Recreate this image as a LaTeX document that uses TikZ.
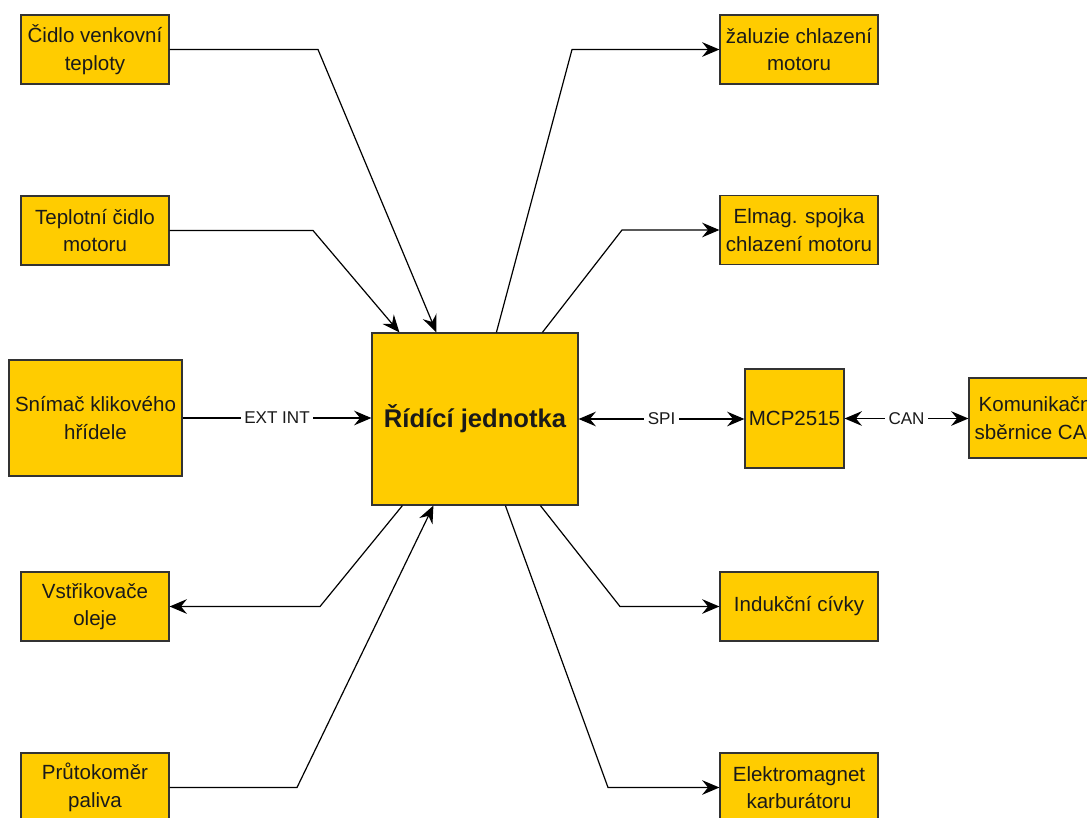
\documentclass[tikz,border=0pt]{standalone}
\usepackage{fontspec}
\setmainfont{Liberation Sans}
\usetikzlibrary{arrows.meta,calc}
\definecolor{boxfill}{HTML}{FFCC00}
\definecolor{boxline}{HTML}{333333}
\definecolor{txt}{HTML}{1A1A1A}
\begin{document}
\begin{tikzpicture}[x=0.75pt,y=-0.75pt,
  blk/.style={draw=boxline,line width=0.9pt,fill=boxfill,align=center,inner sep=0pt,text=txt,
    font=\fontsize{15.4}{20.5}\selectfont},
  std/.style={blk,minimum width=111pt,minimum height=51.75pt},
  rgt/.style={blk,minimum width=118.5pt,minimum height=51.75pt},
  conn/.style={line width=0.9pt,black},
  tipb/.style={-{Stealth[length=13pt,width=11pt,inset=4.5pt]}},
  tipboth/.style={{Stealth[length=13pt,width=11pt,inset=4.5pt]}-{Stealth[length=13pt,width=11pt,inset=4.5pt]}},
  lbl/.style={fill=white,inner sep=2.5pt,text=txt,font=\fontsize{12.8}{15}\selectfont}]
\useasboundingbox (0,0) rectangle (1087,817);
\begin{scope}
\clip (0,0) rectangle (1087,817);
% nodes
\node[std] (c1) at (95,49.5) {Čidlo venkovní\\teploty};
\node[std] (c2) at (95,230.5) {Teplotní čidlo\\motoru};
\node[blk,minimum width=129.75pt,minimum height=87pt] (snim) at (95.5,418) {Snímač klikového\\hřídele};
\node[std] (vst) at (95,606.5) {Vstřikovače\\oleje};
\node[std] (prut) at (95,787.5) {Průtokoměr\\paliva};
\node[blk,minimum width=154.5pt,minimum height=129pt,font=\fontsize{19.2}{23}\selectfont\bfseries] (rj) at (475,419) {Řídící jednotka};
\node[rgt] (zal) at (799,49.5) {žaluzie chlazení\\motoru};
\node[rgt] (elm) at (799,230) {Elmag. spojka\\chlazení motoru};
\node[blk,minimum width=74.25pt,minimum height=74.25pt] (mcp) at (794.5,418.5) {MCP2515};
\node[blk,minimum width=103.5pt,minimum height=60pt] (kom) at (1038,418) {Komunikační\\sběrnice CAN};
\node[rgt] (ind) at (799,606.5) {Indukční cívky};
\node[rgt] (elk) at (799,787.5) {Elektromagnet\\karburátoru};
% bend points
\coordinate (b1) at (318,49.5);
\coordinate (b2) at (313,230.5);
\coordinate (b4) at (320,606.5);
\coordinate (b5) at (297,787.5);
\coordinate (b6) at (572,49.5);
\coordinate (b7) at (622,230);
\coordinate (b10) at (620,606.5);
\coordinate (b11) at (608,787.5);
% connectors
\draw[conn,tipb] (c1.east) -- (b1) -- ($(rj.north west)+(65,0)$);
\draw[conn,tipb] (c2.east) -- (b2) -- ($(rj.north west)+(28,0)$);
\draw[conn,tipb] (snim.east) -- node[lbl]{EXT INT} (snim.east -| rj.west);
\draw[conn,tipb] ($(rj.south west)+(31,0)$) -- (b4) -- (vst.east);
\draw[conn,tipb] (prut.east) -- (b5) -- ($(rj.south west)+(62,0)$);
\draw[conn,tipb] ($(rj.north west)+(125,0)$) -- (b6) -- (zal.west);
\draw[conn,tipb] ($(rj.north west)+(171,0)$) -- (b7) -- (elm.west);
\draw[conn,tipboth] (rj.east) -- node[lbl]{SPI} (rj.east -| mcp.west);
\draw[conn,tipboth] (mcp.east) -- node[lbl]{CAN} (mcp.east -| kom.west);
\draw[conn,tipb] ($(rj.south west)+(169,0)$) -- (b10) -- (ind.west);
\draw[conn,tipb] ($(rj.south west)+(134,0)$) -- (b11) -- (elk.west);
\end{scope}
\end{tikzpicture}
\end{document}
